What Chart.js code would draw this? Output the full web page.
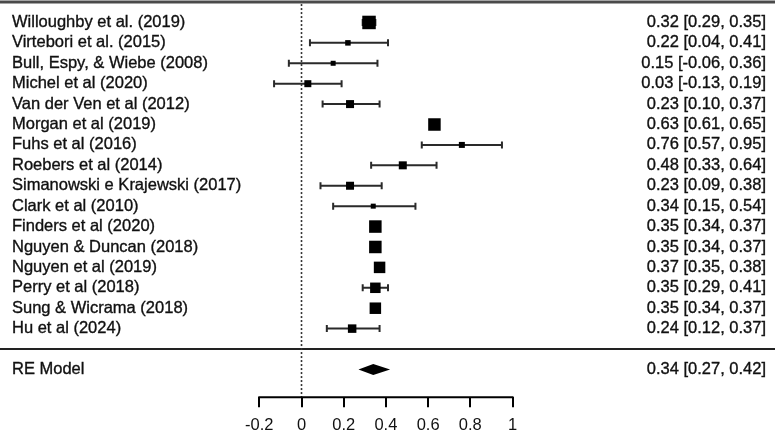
<!DOCTYPE html>
<html>
<head>
<meta charset="utf-8">
<script src="https://cdn.jsdelivr.net/npm/chart.js@4.4.1/dist/chart.umd.min.js"></script>
<style>
  html, body { margin: 0; padding: 0; background: #fff; }
  #wrap { width: 777px; height: 433px; position: relative; }
</style>
</head>
<body>
<div id="wrap"><canvas id="c"></canvas></div>
<script>
const studies = [
  "Willoughby et al. (2019)",
  "Virtebori et al. (2015)",
  "Bull, Espy, & Wiebe (2008)",
  "Michel et al (2020)",
  "Van der Ven et al (2012)",
  "Morgan et al (2019)",
  "Fuhs et al (2016)",
  "Roebers et al (2014)",
  "Simanowski e Krajewski (2017)",
  "Clark et al (2010)",
  "Finders et al (2020)",
  "Nguyen & Duncan (2018)",
  "Nguyen et al (2019)",
  "Perry et al (2018)",
  "Sung & Wicrama (2018)",
  "Hu et al (2024)"
];
const estimates = [0.32, 0.22, 0.15, 0.03, 0.23, 0.63, 0.76, 0.48, 0.23, 0.34, 0.35, 0.35, 0.37, 0.35, 0.35, 0.24];
const ciLower   = [0.29, 0.04, -0.06, -0.13, 0.10, 0.61, 0.57, 0.33, 0.09, 0.15, 0.34, 0.34, 0.35, 0.29, 0.34, 0.12];
const ciUpper   = [0.35, 0.41, 0.36, 0.19, 0.37, 0.65, 0.95, 0.64, 0.38, 0.54, 0.37, 0.37, 0.38, 0.41, 0.37, 0.37];
// relative study weights
const weights   = [13.5, 5.5, 5, 7, 8, 12.5, 6, 8, 8, 5, 12.5, 12.5, 11.5, 10.5, 11.5, 8.5];
const reLabel = "RE Model";
const reEstimate = 0.34;
const reLower = 0.27;
const reUpper = 0.42;
const tickValues = [-0.2, 0, 0.2, 0.4, 0.6, 0.8, 1];
const tickLabels = ["-0.2", "0", "0.2", "0.4", "0.6", "0.8", "1"];

const FONT = '"Liberation Sans", Arial, sans-serif';
const FSIZE = 16.5;
const k = studies.length;
const rowY = i => k - i;          // study rows k..1
const reRow = -1;
const fmt = v => v.toFixed(2);
const ciText = (e, l, u) => fmt(e) + " [" + fmt(l) + ", " + fmt(u) + "]";

const forestPlugin = {
  id: 'forest',
  beforeDatasetsDraw(chart) {
    const ctx = chart.ctx, xs = chart.scales.x, ys = chart.scales.y, ca = chart.chartArea;
    ctx.save();
    // top rule
    ctx.strokeStyle = '#4a4a4a';
    ctx.lineWidth = 3;
    ctx.beginPath();
    ctx.moveTo(0, ys.getPixelForValue(k + 1));
    ctx.lineTo(775, ys.getPixelForValue(k + 1));
    ctx.stroke();
    // separator
    ctx.strokeStyle = '#222';
    ctx.lineWidth = 2;
    ctx.beginPath();
    ctx.moveTo(0, ys.getPixelForValue(0));
    ctx.lineTo(775, ys.getPixelForValue(0));
    ctx.stroke();
    // reference line at 0
    ctx.strokeStyle = '#333';
    ctx.lineWidth = 1.6;
    ctx.setLineDash([2, 2]);
    ctx.beginPath();
    const x0 = xs.getPixelForValue(0);
    ctx.moveTo(x0, ys.getPixelForValue(k + 1) + 2);
    ctx.lineTo(x0, ca.bottom);
    ctx.stroke();
    ctx.setLineDash([]);
    // whiskers
    ctx.strokeStyle = '#2a2a2a';
    ctx.lineWidth = 2;
    for (let i = 0; i < k; i++) {
      const y = ys.getPixelForValue(rowY(i));
      const a = xs.getPixelForValue(ciLower[i]), b = xs.getPixelForValue(ciUpper[i]);
      ctx.beginPath();
      ctx.moveTo(a, y); ctx.lineTo(b, y);
      ctx.moveTo(a, y - 3.5); ctx.lineTo(a, y + 3.5);
      ctx.moveTo(b, y - 3.5); ctx.lineTo(b, y + 3.5);
      ctx.stroke();
    }
    // diamond
    const yr = ys.getPixelForValue(reRow);
    const h = 5.5;
    ctx.fillStyle = '#000';
    ctx.beginPath();
    ctx.moveTo(xs.getPixelForValue(reLower), yr);
    ctx.lineTo(xs.getPixelForValue(reEstimate), yr - h);
    ctx.lineTo(xs.getPixelForValue(reUpper), yr);
    ctx.lineTo(xs.getPixelForValue(reEstimate), yr + h);
    ctx.closePath();
    ctx.fill();
    // axis segment
    ctx.strokeStyle = '#000';
    ctx.lineWidth = 2;
    ctx.beginPath();
    ctx.moveTo(xs.getPixelForValue(tickValues[0]) - 1, ca.bottom);
    ctx.lineTo(xs.getPixelForValue(tickValues[tickValues.length - 1]) + 1, ca.bottom);
    ctx.stroke();
    ctx.restore();
  },
  afterDraw(chart) {
    const ctx = chart.ctx, ys = chart.scales.y;
    ctx.save();
    ctx.font = FSIZE + 'px ' + FONT;
    ctx.fillStyle = '#111';
    ctx.strokeStyle = '#111';
    ctx.lineWidth = 0.35;
    ctx.textBaseline = 'middle';
    ctx.textAlign = 'left';
    const put = (t, x, y) => { ctx.fillText(t, x, y); ctx.strokeText(t, x, y); };
    for (let i = 0; i < k; i++) put(studies[i], 12, ys.getPixelForValue(rowY(i)));
    put(reLabel, 12, ys.getPixelForValue(reRow));
    ctx.textAlign = 'right';
    for (let i = 0; i < k; i++) put(ciText(estimates[i], ciLower[i], ciUpper[i]), 766, ys.getPixelForValue(rowY(i)));
    put(ciText(reEstimate, reLower, reUpper), 766, ys.getPixelForValue(reRow));
    ctx.restore();
  }
};

new Chart(document.getElementById('c'), {
  type: 'scatter',
  data: {
    datasets: [{
      data: estimates.map((e, i) => ({ x: e, y: rowY(i) })),
      pointStyle: 'rect',
      pointRadius: weights.map(w => w / Math.SQRT2),
      pointHoverRadius: weights.map(w => w / Math.SQRT2),
      backgroundColor: '#000',
      borderColor: '#000',
      borderWidth: 0,
      clip: false
    }]
  },
  options: {
    responsive: true,
    maintainAspectRatio: false,
    animation: false,
    events: [],
    layout: { padding: { left: 0, right: 0, top: 0, bottom: -10 }, autoPadding: false },
    plugins: { legend: { display: false }, tooltip: { enabled: false } },
    scales: {
      x: {
        type: 'linear',
        min: -1.429,
        max: 2.2536,
        afterBuildTicks: s => { s.ticks = tickValues.map(v => ({ value: v })); },
        grid: { drawOnChartArea: false, drawTicks: true, tickLength: 10, color: '#000', lineWidth: 2 },
        border: { display: false },
        ticks: {
          autoSkip: false, maxRotation: 0, padding: 8,
          color: '#111',
          font: { family: FONT, size: FSIZE },
          callback: (v, i) => tickLabels[i]
        }
      },
      y: { type: 'linear', display: false, min: -2.36, max: 17.1 }
    }
  },
  plugins: [forestPlugin]
});
</script>
</body>
</html>
